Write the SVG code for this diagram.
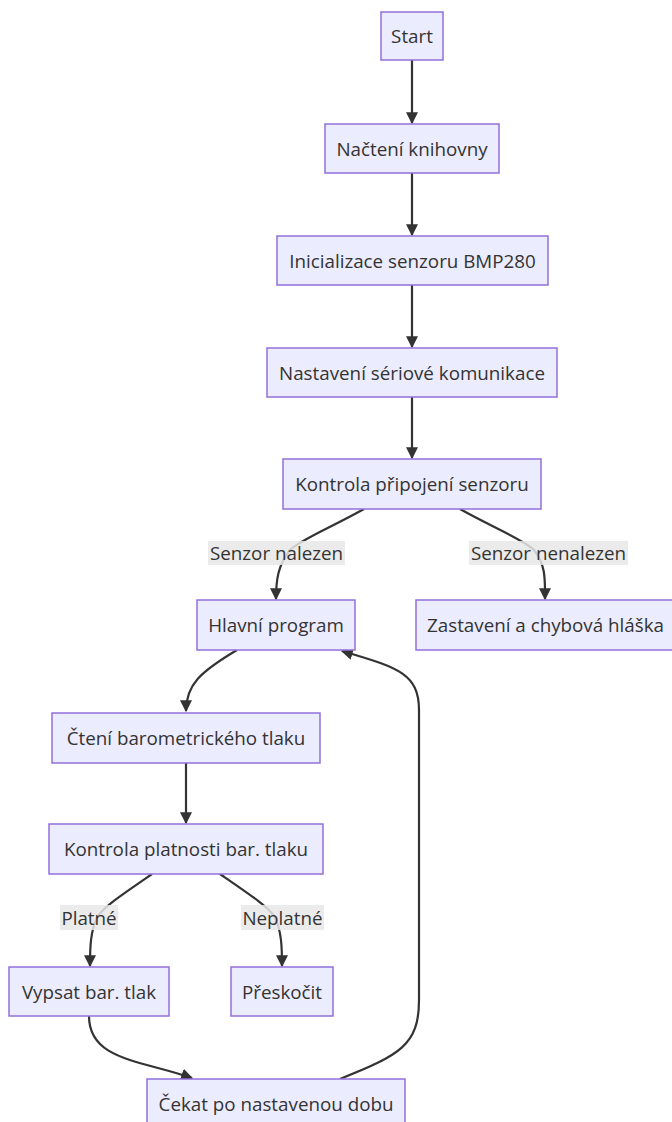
<svg xmlns="http://www.w3.org/2000/svg" width="672" height="1122" viewBox="0 0 672 1122">
  <style>
    .node rect { fill: #ECECFF; stroke: #9370DB; stroke-width: 1.5; }
    .node text, .lbl text { font-family: "Open Sans", "Liberation Sans", sans-serif; font-size: 18.8px; fill: #333333; }
    .node text { text-anchor: middle; dominant-baseline: central; }
    .edge { fill: none; stroke: #333333; stroke-width: 2.2; marker-end: url(#arrow); }
    .lbl rect { fill: #E8E8E8; fill-opacity: 0.85; }
    .lbl text { text-anchor: middle; dominant-baseline: central; }
  </style>
  <defs>
    <marker id="arrow" viewBox="0 0 10 10" refX="9" refY="5" markerUnits="userSpaceOnUse" markerWidth="12" markerHeight="12" orient="auto">
      <path d="M0,0 L10,5 L0,10 z" fill="#333333"/>
    </marker>
  </defs>
  <rect width="672" height="1122" fill="#FFFFFF"/>

  <g id="connectors">
    <path class="edge" d="M412,60 L412,123"/>
    <path class="edge" d="M412,173 L412,235"/>
    <path class="edge" d="M412,285 L412,347"/>
    <path class="edge" d="M412,397 L412,458"/>
    <path class="edge" d="M364,509 C330,528 300,540 290,550 C278,565 276,580 276,599"/>
    <path class="edge" d="M460,509 C494,528 524,540 534,550 C546,565 545,580 545,599"/>
    <path class="edge" d="M237,650 C200,672 186,685 186,711"/>
    <path class="edge" d="M186,763 L186,823"/>
    <path class="edge" d="M152,874 C120,896 105,906 98,916 C90,930 90,950 90,966"/>
    <path class="edge" d="M220,874 C252,896 267,906 274,916 C282,930 282,950 282,966"/>
    <path class="edge" d="M89,1016 C89,1060 140,1060 192,1078"/>
    <path class="edge" d="M340,1079 C400,1055 419,1045 419,1000 L419,710 C419,672 395,667 342,651"/>
  </g>

  <g id="edge-labels">
    <g class="lbl" id="lbl-nalezen"><rect x="208" y="541" width="137" height="24"/><text x="276.5" y="553">Senzor nalezen</text></g>
    <g class="lbl" id="lbl-nenalezen"><rect x="469" y="541" width="159" height="24"/><text x="548.5" y="553">Senzor nenalezen</text></g>
    <g class="lbl" id="lbl-platne"><rect x="60" y="905" width="58" height="25"/><text x="89" y="917.5">Platné</text></g>
    <g class="lbl" id="lbl-neplatne"><rect x="241" y="905" width="83" height="25"/><text x="282.5" y="917.5">Neplatné</text></g>
  </g>

  <g class="node" id="start"><rect x="381" y="12" width="62" height="48"/><text x="412" y="36">Start</text></g>
  <g class="node" id="nacteni"><rect x="325" y="124" width="174" height="49"/><text x="412" y="148.5">Načtení knihovny</text></g>
  <g class="node" id="inicializace"><rect x="277" y="236" width="271" height="49"/><text x="412.5" y="260.5">Inicializace senzoru BMP280</text></g>
  <g class="node" id="nastaveni"><rect x="267" y="348" width="290" height="49"/><text x="412" y="372.5">Nastavení sériové komunikace</text></g>
  <g class="node" id="kontrola"><rect x="283" y="459" width="258" height="50"/><text x="412" y="484">Kontrola připojení senzoru</text></g>
  <g class="node" id="hlavni"><rect x="197" y="600" width="158" height="50"/><text x="276" y="625">Hlavní program</text></g>
  <g class="node" id="zastaveni"><rect x="416" y="600" width="270" height="50"/><text x="427" y="625" style="text-anchor:start">Zastavení a chybová hláška</text></g>
  <g class="node" id="cteni"><rect x="52" y="713" width="268" height="50"/><text x="186" y="738">Čtení barometrického tlaku</text></g>
  <g class="node" id="platnost"><rect x="49" y="824" width="274" height="50"/><text x="186" y="849">Kontrola platnosti bar. tlaku</text></g>
  <g class="node" id="vypsat"><rect x="9" y="967" width="160" height="49"/><text x="89" y="991.5">Vypsat bar. tlak</text></g>
  <g class="node" id="preskocit"><rect x="231" y="967" width="102" height="49"/><text x="282" y="991.5">Přeskočit</text></g>
  <g class="node" id="cekat"><rect x="147" y="1079" width="258" height="50"/><text x="276" y="1104">Čekat po nastavenou dobu</text></g>
</svg>
